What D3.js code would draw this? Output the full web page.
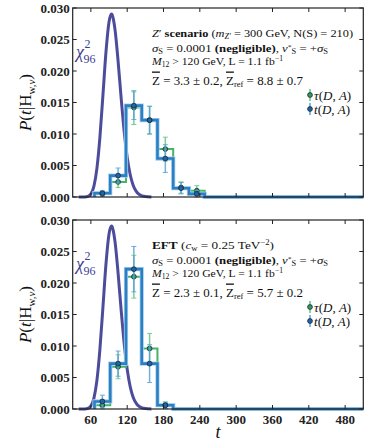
<!DOCTYPE html>
<html>
<head>
<meta charset="utf-8">
<script src="https://cdn.jsdelivr.net/npm/d3@7"></script>
<style>
  html, body { margin: 0; padding: 0; background: #fff; }
  svg { display: block; }
</style>
</head>
<body>
<svg id="chart" width="371" height="442"></svg>
<script>
// ---------------- DATA ----------------
const binCenters = [79, 105, 131, 157, 183, 209, 235];
const binWidth = 26;
const xTicks = [60, 120, 180, 240, 300, 360, 420, 480];
const yTicks = [0, 0.005, 0.010, 0.015, 0.020, 0.025, 0.030];
const yTickLabels = ["0.000", "0.005", "0.010", "0.015", "0.020", "0.025", "0.030"];

// Z' scenario panel
const zTau = [0.0005, 0.0024, 0.0142, 0.0122, 0.0076, 0.0015, 0.0010];
const zTauErr = [0.0004, 0.0009, 0.0027, 0.0022, 0.0019, 0.0009, 0.0008];
const zT = [0.0006, 0.0034, 0.0145, 0.0122, 0.0061, 0.0014, 0.0005];
const zTErr = [0.0004, 0.0012, 0.0022, 0.0022, 0.0022, 0.0009, 0.0005];

// EFT panel
const eTau = [0.0006, 0.0067, 0.0210, 0.0096, 0.0006];
const eTauErr = [0.0008, 0.0019, 0.0034, 0.0024, 0.0005];
const eT = [0.0012, 0.0072, 0.0222, 0.0072, 0.0006];
const eTErr = [0.0010, 0.0020, 0.0036, 0.0030, 0.0005];

// chi^2_96 density
const chiT = [40, 50, 55, 60, 65, 70, 75, 80, 85, 90, 94, 95, 100, 105, 110, 115, 120, 125, 130, 135, 140, 150, 160];
const chiP = [0, 0.00001, 0.0001, 0.00048, 0.0017, 0.00454, 0.00954, 0.01626, 0.02306, 0.02779, 0.02904, 0.02895,
              0.02648, 0.02153, 0.01575, 0.01044, 0.00633, 0.00354, 0.00184, 0.00089, 0.0004, 0.00007, 0.00001];

// ---------------- LAYOUT ----------------
const svg = d3.select("#chart");
const L = 72.7, R = 363.3;
const panels = [
  { top: 8, bottom: 197, tau: zTau, tauErr: zTauErr, t: zT, tErr: zTErr, lines: "zp", xlabels: false },
  { top: 220, bottom: 409, tau: eTau, tauErr: eTauErr, t: eT, tErr: eTErr, lines: "eft", xlabels: true }
];
const x = d3.scaleLinear().domain([30, 510]).range([L, R]);

const serif = "'Liberation Serif', 'Times New Roman', serif";
const chiColor = "#3d3d92";
const blue = "#2b80c3", blueLight = "#a9cfec", blueErr = "#5aa0d6", blueMk = "#1f64a6";
const green = "#45b36b", greenErr = "#62c485", greenMk = "#2f9e58";

function stepPath(vals, y) {
  const pts = [];
  const e0 = binCenters[0] - binWidth / 2;
  pts.push([x(e0), y(0)]);
  vals.forEach((v, i) => {
    const a = binCenters[i] - binWidth / 2, b = binCenters[i] + binWidth / 2;
    pts.push([x(a), y(v)]);
    pts.push([x(b), y(v)]);
  });
  const last = binCenters[vals.length - 1] + binWidth / 2;
  pts.push([x(last), y(0)]);
  pts.push([x(510), y(0)]);
  return d3.line()(pts);
}

function richText(g, xPos, yPos, size, segs, targetWidth) {
  const t = g.append("text").attr("x", xPos).attr("y", yPos)
    .attr("font-family", serif).attr("font-size", size).attr("fill", "#111");
  let shift = 0;
  segs.forEach(s => {
    const sp = t.append("tspan").text(s.t);
    let target = 0;
    if (s.sub) target = size * 0.2;
    if (s.sup) target = -size * (s.small ? 0.22 : 0.34);
    const dy = target - shift;
    if (dy !== 0) sp.attr("dy", dy);
    shift = target;
    if (s.sub || s.sup) sp.attr("font-size", size * (s.small ? 0.6 : 0.66));
    if (s.i) sp.attr("font-style", "italic");
    if (s.b) sp.attr("font-weight", "bold");
    if (s.dx) sp.attr("dx", s.dx);
    if (s.ol) sp.style("text-decoration", "overline");
  });
  if (targetWidth) {
    t.attr("textLength", targetWidth).attr("lengthAdjust", "spacingAndGlyphs");
  }
  return t;
}

const linesZ = [
  [{ t: "Z", i: 1 }, { t: "′ " }, { t: "scenario", b: 1 }, { t: " (" }, { t: "m", i: 1 }, { t: "Z′", i: 1, sub: 1 }, { t: " = 300 GeV, N(S) = 210)" }],
  [{ t: "σ", i: 1 }, { t: "S", sub: 1 }, { t: " = 0.0001 " }, { t: "(negligible)", b: 1 }, { t: ", " }, { t: "ν", i: 1 }, { t: "*", sup: 1, small: 1 }, { t: "S", sub: 1 }, { t: " = +" }, { t: "σ", i: 1 }, { t: "S", sub: 1 }],
  [{ t: "M", i: 1 }, { t: "12", sub: 1 }, { t: " > 120 GeV, L = 1.1 fb" }, { t: "−1", sup: 1 }],
  [{ t: "Z", ol: 1 }, { t: " = 3.3 ± 0.2, " }, { t: "Z", ol: 1 }, { t: "ref", sub: 1 }, { t: " = 8.8 ± 0.7" }]
];
const linesE = [
  [{ t: "EFT", b: 1 }, { t: " (" }, { t: "c", i: 1 }, { t: "w", sub: 1 }, { t: " = 0.25 TeV" }, { t: "−2", sup: 1 }, { t: ")" }],
  linesZ[1],
  linesZ[2],
  [{ t: "Z", ol: 1 }, { t: " = 2.3 ± 0.1, " }, { t: "Z", ol: 1 }, { t: "ref", sub: 1 }, { t: " = 5.7 ± 0.2" }]
];
const widthsZ = [201, 176, 131, 151];
const widthsE = [122, 176, 131, 151];
const lineOffsets = [28.5, 43.5, 57, 76.5];

panels.forEach(p => {
  const y = d3.scaleLinear().domain([0, 0.030]).range([p.bottom, p.top]);
  const g = svg.append("g");

  // chi^2 curve
  g.append("path")
    .datum(chiT.map((t, i) => [t, chiP[i]]))
    .attr("fill", "none").attr("stroke", chiColor).attr("stroke-width", 3).attr("stroke-opacity", 0.92)
    .attr("d", d3.line().x(d => x(d[0])).y(d => y(d[1])).curve(d3.curveMonotoneX));

  // histograms
  g.append("path").attr("d", stepPath(p.tau, y)).attr("fill", "none")
    .attr("stroke", green).attr("stroke-width", 2);
  g.append("path").attr("d", stepPath(p.t, y)).attr("fill", "none")
    .attr("stroke", blueLight).attr("stroke-width", 4.2);
  g.append("path").attr("d", stepPath(p.t, y)).attr("fill", "none")
    .attr("stroke", blue).attr("stroke-width", 2.6);

  // error bars + markers
  function errs(vals, err, col, mk) {
    vals.forEach((v, i) => {
      const cx = x(binCenters[i]);
      const y1 = y(v + err[i]), y0 = y(Math.max(0, v - err[i]));
      g.append("line").attr("x1", cx).attr("x2", cx).attr("y1", y1).attr("y2", y0)
        .attr("stroke", col).attr("stroke-width", 1.5).attr("stroke-opacity", 0.85);
      [y1, y0].forEach(yy => g.append("line").attr("x1", cx - 2.5).attr("x2", cx + 2.5)
        .attr("y1", yy).attr("y2", yy).attr("stroke", col).attr("stroke-width", 1).attr("stroke-opacity", 0.85));
    });
    vals.forEach((v, i) => {
      g.append("circle").attr("cx", x(binCenters[i])).attr("cy", y(v)).attr("r", 2.4)
        .attr("fill", mk).attr("stroke", "#15283a").attr("stroke-width", 0.8);
    });
  }
  errs(p.tau, p.tauErr, greenErr, greenMk);
  errs(p.t, p.tErr, blueErr, blueMk);

  // frame
  g.append("rect").attr("x", L).attr("y", p.top).attr("width", R - L).attr("height", p.bottom - p.top)
    .attr("fill", "none").attr("stroke", "#222").attr("stroke-width", 1.2);

  // ticks (inward, all sides)
  xTicks.forEach(v => {
    const xx = x(v);
    g.append("line").attr("x1", xx).attr("x2", xx).attr("y1", p.bottom).attr("y2", p.bottom - 4).attr("stroke", "#222");
    g.append("line").attr("x1", xx).attr("x2", xx).attr("y1", p.top).attr("y2", p.top + 4).attr("stroke", "#222");
  });
  yTicks.forEach((v, i) => {
    const yy = y(v);
    g.append("line").attr("x1", L).attr("x2", L + 4).attr("y1", yy).attr("y2", yy).attr("stroke", "#222");
    g.append("line").attr("x1", R).attr("x2", R - 4).attr("y1", yy).attr("y2", yy).attr("stroke", "#222");
    g.append("text").attr("x", L - 3).attr("y", yy + 4.5).attr("text-anchor", "end")
      .attr("font-family", serif).attr("font-size", 13).attr("font-weight", "bold").attr("fill", "#222")
      .text(yTickLabels[i]);
  });
  if (p.xlabels) {
    xTicks.forEach(v => {
      g.append("text").attr("x", x(v)).attr("y", p.bottom + 15).attr("text-anchor", "middle")
        .attr("font-family", serif).attr("font-size", 13).attr("font-weight", "bold").attr("fill", "#222")
        .text(v);
    });
  }

  // y label
  const yl = g.append("text")
    .attr("transform", `translate(31,${(p.top + p.bottom) / 2}) rotate(-90)`)
    .attr("text-anchor", "middle").attr("font-family", serif).attr("font-size", 17).attr("fill", "#111");
  yl.append("tspan").attr("font-style", "italic").text("P");
  yl.append("tspan").text("(");
  yl.append("tspan").attr("font-style", "italic").text("t");
  yl.append("tspan").text("|H");
  yl.append("tspan").attr("font-size", 11).attr("dy", 4).text("w,");
  yl.append("tspan").attr("font-size", 11).attr("font-style", "italic").text("ν");
  yl.append("tspan").attr("dy", -4).text(")");

  // chi^2 label
  const chiBase = p.top + 50;
  const ch = g.append("text").attr("x", 76).attr("y", chiBase).attr("font-family", serif)
    .attr("font-size", 18).attr("font-style", "italic").attr("fill", chiColor).text("χ");
  const cw = ch.node().getComputedTextLength();
  g.append("text").attr("x", 76 + cw + 0.5).attr("y", chiBase - 10).attr("font-family", serif)
    .attr("font-size", 12).attr("fill", chiColor).text("2");
  g.append("text").attr("x", 76 + cw - 0.5).attr("y", chiBase + 5).attr("font-family", serif)
    .attr("font-size", 12).attr("fill", chiColor).text("96");

  // annotation text
  const lines = p.lines === "zp" ? linesZ : linesE;
  const widths = p.lines === "zp" ? widthsZ : widthsE;
  lines.forEach((segs, i) => {
    richText(g, 152, p.top + lineOffsets[i], i === 3 ? 13 : 11, segs, widths[i]);
  });

  // legend
  const legend = [
    { lab: "τ", col: greenErr, mk: greenMk, dy: 87 },
    { lab: "t", col: blueErr, mk: blueMk, dy: 101 }
  ];
  legend.forEach(l => {
    const cy = p.top + l.dy;
    g.append("line").attr("x1", 310).attr("x2", 310).attr("y1", cy - 6).attr("y2", cy + 6)
      .attr("stroke", l.col).attr("stroke-width", 1.5);
    g.append("circle").attr("cx", 310).attr("cy", cy).attr("r", 2.4).attr("fill", l.mk)
      .attr("stroke", "#15283a").attr("stroke-width", 0.8);
    const tx = g.append("text").attr("x", 314).attr("y", cy + 4.5).attr("font-family", serif)
      .attr("font-size", 13).attr("fill", "#111");
    tx.append("tspan").attr("font-style", "italic").text(l.lab);
    tx.append("tspan").text("(");
    tx.append("tspan").attr("font-style", "italic").text("D");
    tx.append("tspan").text(", ");
    tx.append("tspan").attr("font-style", "italic").text("A");
    tx.append("tspan").text(")");
  });
});

// x label
svg.append("text").attr("x", (L + R) / 2).attr("y", 438).attr("text-anchor", "middle")
  .attr("font-family", serif).attr("font-size", 18).attr("font-style", "italic").attr("fill", "#111").text("t");
</script>
</body>
</html>
